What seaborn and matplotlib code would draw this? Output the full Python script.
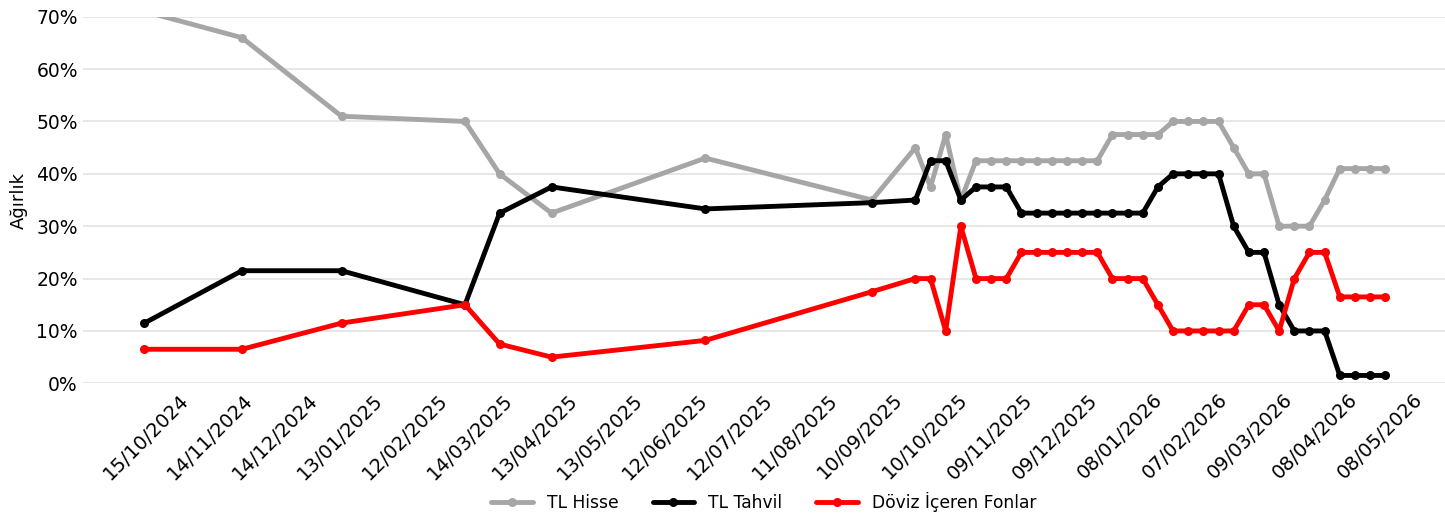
import pandas as pd
import matplotlib.pyplot as plt
import matplotlib.ticker as mtick
import seaborn as sns

sns.set_theme(style="whitegrid")
plt.rcParams['font.family'] = ['DejaVu Sans']
plt.rcParams['text.color'] = 'black'
plt.rcParams['axes.labelcolor'] = 'black'
plt.rcParams['xtick.color'] = 'black'
plt.rcParams['ytick.color'] = 'black'

# ------------------------------
# DATA
# ------------------------------
dates = [
    "2024-09-23", "2024-11-07", "2024-12-23", "2025-02-18", "2025-03-06",
    "2025-03-30", "2025-06-09", "2025-08-25",
    "2025-09-14", "2025-09-21", "2025-09-28", "2025-10-05", "2025-10-12",
    "2025-10-19", "2025-10-26", "2025-11-02", "2025-11-09", "2025-11-16",
    "2025-11-23", "2025-11-30", "2025-12-07", "2025-12-14", "2025-12-21",
    "2025-12-28", "2026-01-04", "2026-01-11", "2026-01-18", "2026-01-25",
    "2026-02-01", "2026-02-08", "2026-02-15", "2026-02-22", "2026-03-01",
    "2026-03-08", "2026-03-15", "2026-03-22", "2026-03-29", "2026-04-05",
    "2026-04-12", "2026-04-19",
]

tl_hisse = [
    71, 66, 51, 50, 40, 32.5, 43, 35,
    45, 37.5, 47.5, 35, 42.5, 42.5, 42.5, 42.5, 42.5, 42.5, 42.5, 42.5, 42.5,
    47.5, 47.5, 47.5, 47.5, 50, 50, 50, 50, 45, 40, 40, 30, 30, 30, 35,
    41, 41, 41, 41,
]
tl_tahvil = [
    11.5, 21.5, 21.5, 15, 32.5, 37.5, 33.3, 34.5,
    35, 42.5, 42.5, 35, 37.5, 37.5, 37.5, 32.5, 32.5, 32.5, 32.5, 32.5, 32.5,
    32.5, 32.5, 32.5, 37.5, 40, 40, 40, 40, 30, 25, 25, 15, 10, 10, 10,
    1.5, 1.5, 1.5, 1.5,
]
doviz = [
    6.5, 6.5, 11.5, 15, 7.5, 5, 8.2, 17.5,
    20, 20, 10, 30, 20, 20, 20, 25, 25, 25, 25, 25, 25,
    20, 20, 20, 15, 10, 10, 10, 10, 10, 15, 15, 10, 20, 25, 25,
    16.5, 16.5, 16.5, 16.5,
]

series_names = ["TL Hisse", "TL Tahvil", "Döviz İçeren Fonlar"]
series_colors = ["#a6a6a6", "#000000", "#ff0000"]

tick_labels = [
    "15/10/2024", "14/11/2024", "14/12/2024", "13/01/2025", "12/02/2025",
    "14/03/2025", "13/04/2025", "13/05/2025", "12/06/2025", "12/07/2025",
    "11/08/2025", "10/09/2025", "10/10/2025", "09/11/2025", "09/12/2025",
    "08/01/2026", "07/02/2026", "09/03/2026", "08/04/2026", "08/05/2026",
]

# ------------------------------
# LONG FORMAT TABLE
# ------------------------------
frames = []
for name, vals in zip(series_names, [tl_hisse, tl_tahvil, doviz]):
    frames.append(pd.DataFrame({
        "date": pd.to_datetime(dates),
        "weight": [v / 100 for v in vals],
        "series": name,
    }))
df = pd.concat(frames, ignore_index=True)

# ------------------------------
# CHART
# ------------------------------
fig = plt.figure(figsize=(14.45, 5.13), dpi=100)
ax = fig.add_axes([0.0572, 0.2528, 0.9428, 0.7146])

sns.lineplot(data=df, x="date", y="weight", hue="series",
             hue_order=series_names, palette=dict(zip(series_names, series_colors)),
             marker="o", markersize=6.5, markeredgewidth=0, linewidth=3.5,
             ax=ax)

ax.set_xlim(pd.Timestamp("2024-08-25 11:00"), pd.Timestamp("2026-05-16 14:00"))
ax.set_ylim(0, 0.70)
ax.yaxis.set_major_locator(mtick.MultipleLocator(0.1))
ax.yaxis.set_major_formatter(mtick.PercentFormatter(1.0, decimals=0))

ax.set_xticks(pd.to_datetime(tick_labels, dayfirst=True))
ax.set_xticklabels(tick_labels, rotation=45, ha="right", fontsize=14)
ax.tick_params(axis="y", labelsize=13.5, length=0, pad=3.5)
ax.tick_params(axis="x", length=0, pad=5)

ax.grid(axis="x", visible=False)
ax.grid(axis="y", color="#e3e3e3", linewidth=1.2)
for s in ax.spines.values():
    s.set_visible(False)

ax.set_xlabel("")
ax.set_ylabel("Ağırlık", fontsize=13, labelpad=6)

ax.legend(loc="center", bbox_to_anchor=(0.5, -0.324), ncol=3, frameon=False,
          fontsize=12.3, handlelength=2.45, handletextpad=0.8, columnspacing=2.0)

plt.savefig("out.png", dpi=100)
plt.close()
